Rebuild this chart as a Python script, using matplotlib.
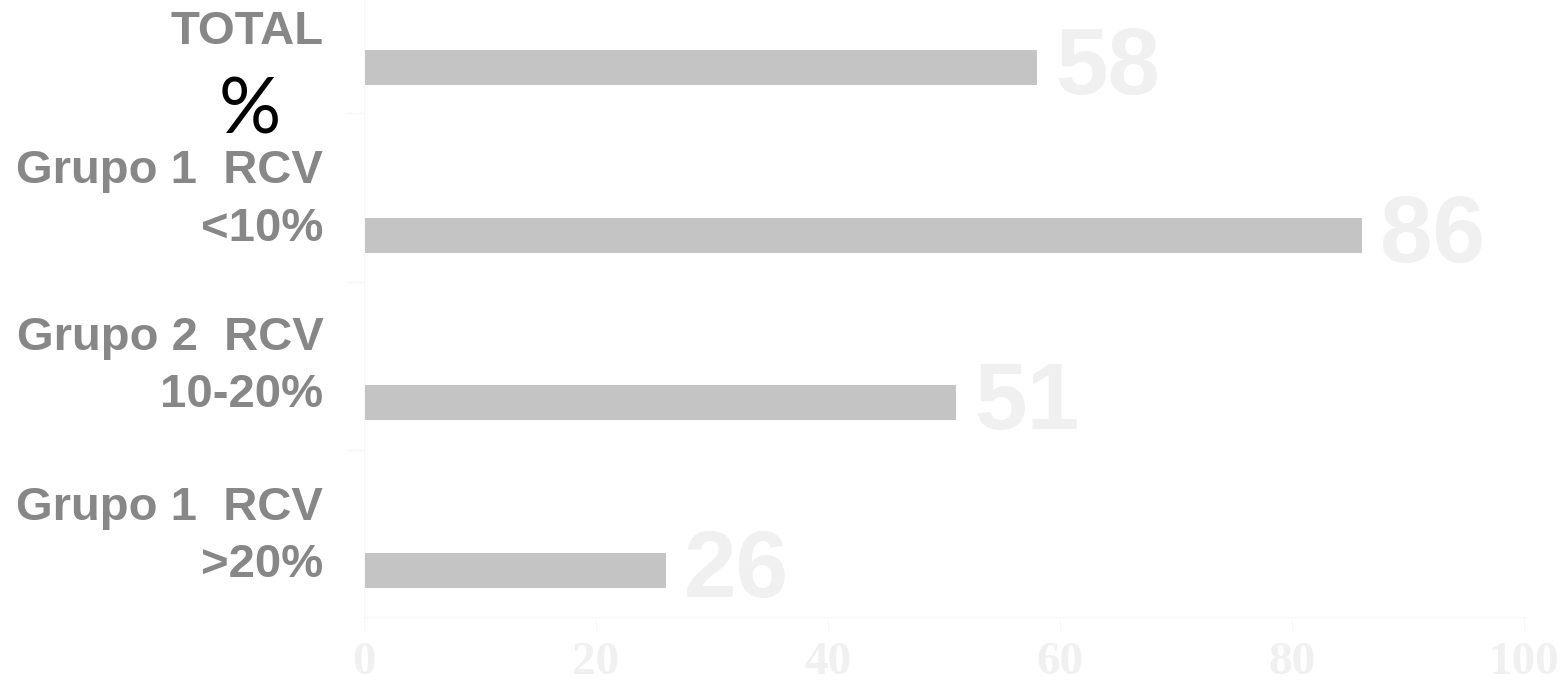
import matplotlib.pyplot as plt
import numpy as np

# porcentajes por grupo de riesgo cardiovascular
labels = ['TOTAL', 'Grupo 1  RCV\n<10%', 'Grupo 2  RCV\n10-20%', 'Grupo 1  RCV\n>20%']
values = [58, 86, 51, 26]
xticks = [0, 20, 40, 60, 80, 100]

bar_color = '#c4c4c4'
label_color = '#878787'
value_color = '#f0f0f0'
axis_color = '#f7f7f7'

fig = plt.figure(figsize=(15.64, 6.86), dpi=100)
ax = fig.add_axes([0.2327, 0.1006, 0.7417, 0.8994])

y = np.arange(len(values))
ax.barh(y, values, height=0.21, color=bar_color)

ax.set_xlim(0, 100)
ax.set_ylim(3.28, -0.404)

# value labels next to each bar
for yi, v in zip(y, values):
    ax.text(v + 1.6, yi + 0.012, str(v), ha='left', va='center',
            fontsize=68, fontweight='bold', family='Liberation Sans',
            color=value_color)

# category labels, placed above the bar line
ax.set_yticks([])
offsets = [-0.21, -0.21, -0.215, -0.20]
for yi, lab, off in zip(y, labels, offsets):
    ax.text(-0.035, yi + off, lab, transform=ax.get_yaxis_transform(),
            ha='right', va='center', fontsize=34, fontweight='bold',
            family='Liberation Sans', color=label_color, linespacing=1.4)

# the lone percent sign
fig.text(250 / 1564, 1 - 112 / 686, '%', ha='center', va='center',
         fontsize=56, family='Lato', color='black')

ax.set_yticks([0.27, 1.28, 2.28], minor=True)
ax.tick_params(axis='y', which='minor', length=12, color=axis_color, width=1)
ax.set_xticks(xticks)
ax.set_xticklabels([str(t) for t in xticks], family='Liberation Serif',
                   fontweight='bold', fontsize=34, color=value_color)
ax.tick_params(axis='x', length=11, color=axis_color, pad=7)

for side in ['top', 'right']:
    ax.spines[side].set_visible(False)
for side in ['left', 'bottom']:
    ax.spines[side].set_color(axis_color)

fig.savefig('out.png', dpi=100)
